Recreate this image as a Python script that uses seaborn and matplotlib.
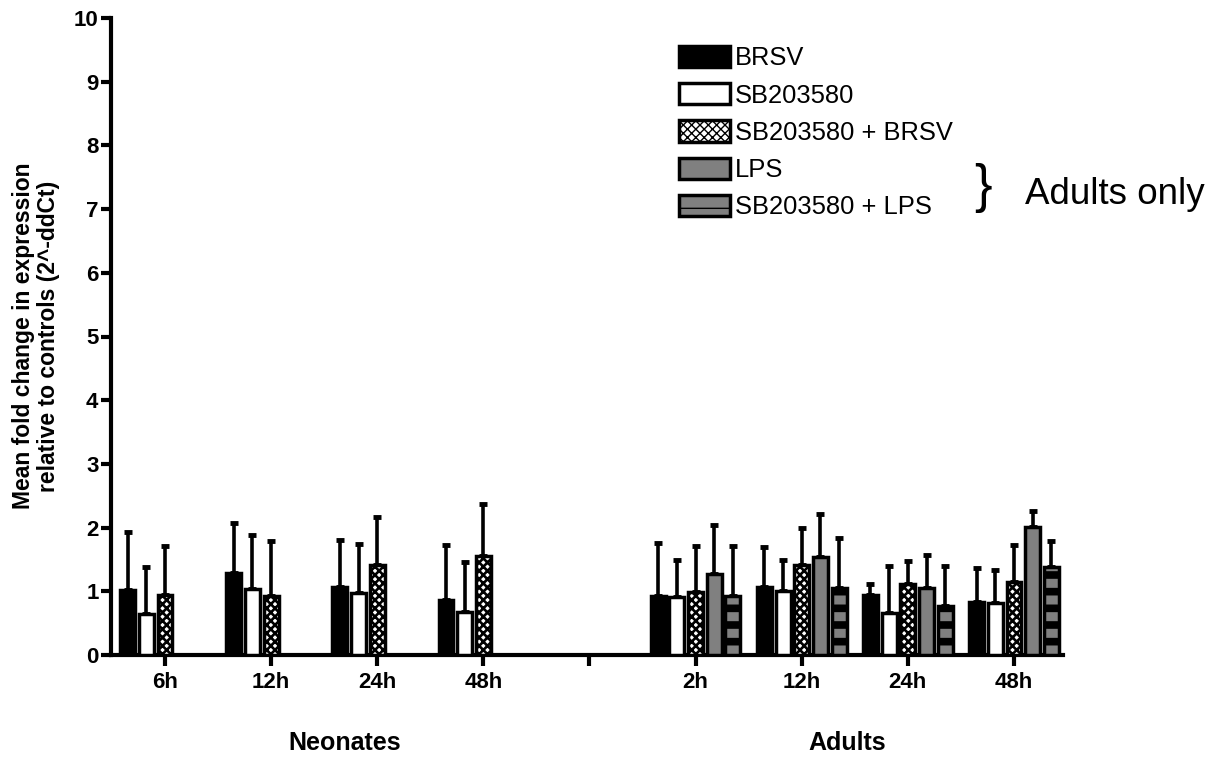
import numpy as np
import pandas as pd
import matplotlib
matplotlib.use("Agg")
import matplotlib.pyplot as plt
import seaborn as sns
from matplotlib.patches import Patch

# ---------------- data ----------------
treatments = ["BRSV", "SB203580", "SB203580 + BRSV", "LPS", "SB203580 + LPS"]
categories = ["N6h", "N12h", "N24h", "N48h", "gap", "A2h", "A12h", "A24h", "A48h"]
tick_labels = ["6h", "12h", "24h", "48h", "", "2h", "12h", "24h", "48h"]

neo_cats = ["N6h", "N12h", "N24h", "N48h"]
neo_brsv = [1.02, 1.28, 1.06, 0.86]
neo_brsv_err = [0.91, 0.79, 0.75, 0.87]
neo_sb = [0.64, 1.03, 0.97, 0.67]
neo_sb_err = [0.74, 0.86, 0.77, 0.79]
neo_sbbrsv = [0.94, 0.92, 1.41, 1.56]
neo_sbbrsv_err = [0.77, 0.87, 0.76, 0.81]

ad_cats = ["A2h", "A12h", "A24h", "A48h"]
ad_brsv = [0.93, 1.07, 0.94, 0.83]
ad_brsv_err = [0.83, 0.63, 0.18, 0.54]
ad_sb = [0.91, 1.00, 0.66, 0.81]
ad_sb_err = [0.58, 0.49, 0.74, 0.53]
ad_sbbrsv = [0.99, 1.41, 1.11, 1.14]
ad_sbbrsv_err = [0.72, 0.58, 0.37, 0.59]
ad_lps = [1.27, 1.54, 1.05, 2.01]
ad_lps_err = [0.77, 0.67, 0.52, 0.25]
ad_sblps = [0.93, 1.05, 0.77, 1.38]
ad_sblps_err = [0.78, 0.78, 0.63, 0.41]

rows = []
def add(cats, treat, vals, errs):
    for c, v, e in zip(cats, vals, errs):
        rows.append({"cat": c, "treatment": treat, "value": v, "err": e})

add(neo_cats, "BRSV", neo_brsv, neo_brsv_err)
add(neo_cats, "SB203580", neo_sb, neo_sb_err)
add(neo_cats, "SB203580 + BRSV", neo_sbbrsv, neo_sbbrsv_err)
add(ad_cats, "BRSV", ad_brsv, ad_brsv_err)
add(ad_cats, "SB203580", ad_sb, ad_sb_err)
add(ad_cats, "SB203580 + BRSV", ad_sbbrsv, ad_sbbrsv_err)
add(ad_cats, "LPS", ad_lps, ad_lps_err)
add(ad_cats, "SB203580 + LPS", ad_sblps, ad_sblps_err)
df = pd.DataFrame(rows)

# ---------------- style ----------------
sns.set_theme(style="ticks")
plt.rcParams["font.family"] = ["Liberation Sans", "DejaVu Sans"]
plt.rcParams["text.color"] = "black"
plt.rcParams["axes.labelcolor"] = "black"
plt.rcParams["xtick.color"] = "black"
plt.rcParams["ytick.color"] = "black"

face = {"BRSV": "black", "SB203580": "white", "SB203580 + BRSV": "white",
        "LPS": "#808080", "SB203580 + LPS": "#808080"}
hatches = {"BRSV": "", "SB203580": "", "SB203580 + BRSV": "xxxx",
           "LPS": "", "SB203580 + LPS": "-"}
hatch_lw = {"SB203580 + BRSV": 1.9, "SB203580 + LPS": 5.5}

W, H = 1222, 757
fig = plt.figure(figsize=(W / 100, H / 100), dpi=100)
ax = fig.add_axes([111 / W, 1 - 655 / H, (1063 - 111) / W, (655 - 18) / H])

group_w = 0.88
nh = len(treatments)
sns.barplot(data=df, x="cat", y="value", hue="treatment", order=categories,
            hue_order=treatments, palette=face, width=group_w, gap=0.2,
            errorbar=None, edgecolor="black", linewidth=2.5, legend=False,
            ax=ax, zorder=3)

slot = group_w / nh
for p in ax.patches:
    cx = p.get_x() + p.get_width() / 2
    ci = round(cx)
    hi = int(round((cx - ci) / slot + (nh - 1) / 2))
    t = treatments[hi]
    if hatches[t]:
        p.set_hatch(hatches[t])
        try:
            p.set_hatch_linewidth(hatch_lw[t])
        except AttributeError:
            pass

# one-sided error bars
for hi, t in enumerate(treatments):
    sub = df[df.treatment == t]
    xs = [categories.index(c) + (hi - (nh - 1) / 2) * slot for c in sub.cat]
    ax.errorbar(xs, sub.value, yerr=[np.zeros(len(sub)), sub.err], fmt="none",
                ecolor="black", elinewidth=2.6, capsize=3.2, capthick=3.5, zorder=2)

ax.set_ylim(0, 10)
ax.set_yticks(range(0, 11))
ax.set_xlim(-0.509, 8.462)
ax.set_xticks(range(len(categories)))
ax.set_xticklabels(tick_labels)
ax.set_xlabel("")
ax.set_ylabel("")
for s in ["top", "right"]:
    ax.spines[s].set_visible(False)
for s in ["left", "bottom"]:
    ax.spines[s].set_linewidth(3)
    ax.spines[s].set_color("black")
ax.tick_params(axis="y", length=7, width=3, pad=2, labelsize=16, color="black")
ax.tick_params(axis="x", length=8, width=3, pad=4, labelsize=16, color="black")
for lab in ax.get_xticklabels() + ax.get_yticklabels():
    lab.set_fontweight("bold")

fig.text(36 / W, 1 - 336 / H,
         "Mean fold change in expression\nrelative to controls (2^-ddCt)",
         rotation=90, ha="center", va="center", multialignment="center",
         fontsize=16.5, fontweight="bold", linespacing=1.15)
fig.text(345 / W, 1 - 743 / H, "Neonates", ha="center", va="center",
         fontsize=18, fontweight="bold")
fig.text(847 / W, 1 - 743 / H, "Adults", ha="center", va="center",
         fontsize=18, fontweight="bold")

handles = [Patch(facecolor=face[t], edgecolor="black", linewidth=2.5,
                 hatch=hatches[t]) for t in treatments]
fig.legend(handles, treatments, loc="upper left",
           bbox_to_anchor=(679 / W, 1 - 46 / H), frameon=False, fontsize=18.4,
           handlelength=2.0, handleheight=0.9, handletextpad=0.2,
           labelspacing=0.5, borderpad=0, borderaxespad=0)

fig.text(983 / W, 1 - 188 / H, "}", fontsize=38, ha="center", va="center")
fig.text(1025 / W, 1 - 195 / H, "Adults only", fontsize=26.5, ha="left", va="center")

fig.savefig("out.png", dpi=100)
